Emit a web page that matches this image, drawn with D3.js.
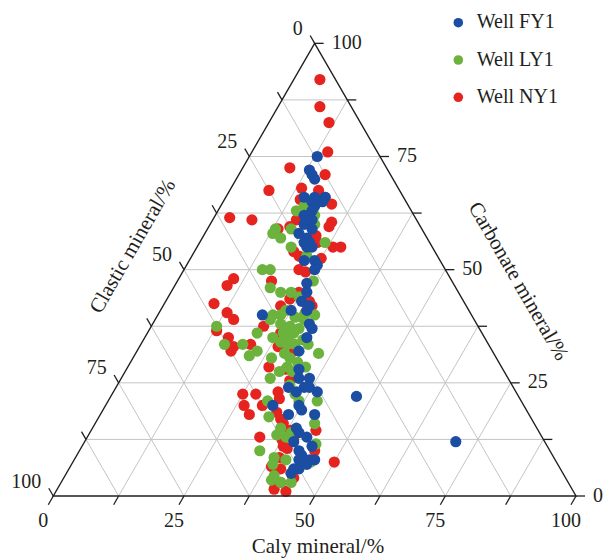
<!DOCTYPE html>
<html>
<head>
<meta charset="utf-8">
<script src="https://cdn.jsdelivr.net/npm/d3@7"></script>
<style>
  body { margin: 0; background: #fff; }
  svg text { font-family: "Liberation Serif", "Times New Roman", serif; fill: #231f20; }
</style>
</head>
<body>
<svg id="chart"></svg>
<script>
const W = 604, H = 558;

const wells = ["Well FY1", "Well LY1", "Well NY1"];
const wellColors = ["#1b4ea2", "#6cb33e", "#e5241f"];

// each sample: [clay, clastic, carbonate] in %
const wellFY1 = [
  [13,12,75],[13,15,72],[14,15,71],[15,15,70],[15,19,66],[17,18,65],[17,17,66],[19,15,66],[18,18,64],[19,16,65],
  [18,19,63],[17,21,62],[18,20,62],[19,20,61],[18,22,60],[20,21,59],[18,24,58],[20,23,57],[20,24,56],[21,23,56],
  [22,23,55],[21,24,55],[22,26,52],[24,24,52],[25,24,51],[25,25,50],[25,28,47],[26,29,45],[26,31,43],[28,30,42],
  [28,31,41],[25,34,41],[20,40,40],[31,32,37],[30,32,38],[31,34,35],[31,37,32],[33,39,28],[36,38,26],[34,40,26],
  [37,39,24],[36,40,24],[35,42,23],[33,43,24],[39,38,23],[47,31,22],[37,43,20],[38,43,19],[36,46,18],[32,48,20],
  [41,41,18],[39,46,15],[40,46,14],[42,45,13],[40,48,12],[44,45,11],[42,48,10],[43,48,9],[45,47,8],[43,49,8],
  [43,51,6],[44,50,6],[45,48,7],[43,52,5],[71,17,12],[46,46,8]
];

const wellLY1 = [
  [16,20,64],[15,22,63],[19,19,62],[13,28,59],[13,29,58],[16,25,59],[15,28,57],[18,27,55],[24,20,56],[20,20,60],
  [22,25,53],[15,35,50],[16.5,33.5,50],[18.5,35.5,46],[26,26.5,47.5],[21,34,45],[23,32,45],[25,31,44],[24,35,41],[22,38,40],
  [23.5,36.5,40],[28,32,40],[30,30,40],[22,39,39],[24.5,37.5,38],[26.5,36,37.5],[26,38,36],[28,36,36],[28.5,34.5,37],[24.5,40.5,35],
  [26.5,39.5,34],[28,38.5,33.5],[29.5,37,33.5],[30.5,35,34.5],[12.5,50,37.5],[21,43,36],[16,50.5,33.5],[23,45,32],[22,47,31],[19.5,47,33.5],
  [26.5,43,30.5],[28.5,40,31.5],[30,39.5,30.5],[32,38.5,29.5],[30.5,41,28.5],[32,40.5,27.5],[35,33.5,31.5],[29.5,43,27.5],[28.5,45.5,26],[33,42.5,24.5],
  [35,42.5,22.5],[36.5,42.5,21],[30.5,48.5,21],[32.5,50,17.5],[40,39,21],[36,49,15],[38.5,47.5,14],[38,49,13],[36,50.5,13.5],[42,42,16],
  [44.5,44,11.5],[34.5,55.5,10],[38,53.5,8.5],[38.5,54.5,7],[45.5,47,7.5],[40.5,51.5,8],[40,55.5,4.5],[40,56.5,3.5],[42,55,3],[44,53,3],
  [34,37.5,28.5],[28.5,32.5,39],[26.5,34,39.5],[27.5,37.5,35],[32,34.5,33.5]
];

const wellNY1 = [
  [5,3,92],[8,6,86],[11.5,6,82.5],[14.5,9.5,76],[9,18.5,72.5],[16.5,12.5,71],[7.5,25,67.5],[3,35.5,61.5],[7.5,31.5,61],[27.5,17.5,55],
  [26,19,55],[23,16.5,60.5],[23,17.5,59.5],[21,14.5,64.5],[13.5,18.5,68],[17,15.5,67.5],[14.5,20,65.5],[16,23,61],[15.5,25,59.5],[13.5,27.5,59],
  [21.5,21,57.5],[22.5,21.5,56],[20.5,26.5,53],[25,22.5,52.5],[22,28,50],[23.5,27,49.5],[19,27,54],[10.5,41.5,48],[10,43.5,46.5],[18,34.5,47.5],
  [9.5,48,42.5],[13,46.5,40.5],[15,46,39],[24.5,30.5,45],[23.5,33,43.5],[22.5,35.5,42],[27.5,29.5,43],[28.5,29.5,42],[26.5,30.5,43],[28,31.5,40.5],
  [13,50.5,36.5],[16,49,35],[18,50,32],[18,49,33],[21,45.5,33.5],[21.5,41,37.5],[26.5,40.5,33],[25.5,38.5,36],[30,38,32],[27,44.5,28.5],
  [30.5,41.5,28],[32.5,42,25.5],[25,52.5,22.5],[27.5,50,22.5],[26.5,53.5,20],[28.5,53.5,18],[30,50,20],[33,54,13],[31.5,45.5,23],[32.5,46,21.5],
  [33.5,48,18.5],[35,48,17],[36,48,16],[37.5,50,12.5],[38.5,50.5,11],[39.5,50,10.5],[38,47.5,14.5],[39.5,47.5,13],[39,52.5,8.5],[38.5,55,6.5],
  [40.5,53.5,6],[43,52,5],[44,52,4],[42,55,3],[41.5,57,1.5],[44,55,1],[43,42.5,14.5],[45,45,10],[50,42.5,7.5],[19,15,66]
];

const tickValues = [0, 12.5, 25, 37.5, 50, 62.5, 75, 87.5, 100];
const labelValues = [0, 25, 50, 75, 100];

const clayTitle = "Caly mineral/%";
const clasticTitle = "Clastic mineral/%";
const carbonateTitle = "Carbonate mineral/%";

const svg = d3.select("#chart").attr("width", W).attr("height", H);

// triangle frame
const leftX = 53.3, rightX = 576, baseY = 496;
const apexY = baseY - (rightX - leftX) * Math.sqrt(3) / 2;

const x = d3.scaleLinear().domain([0, 100]).range([leftX, rightX]);
const y = d3.scaleLinear().domain([0, 100]).range([baseY, apexY]);

function proj(clay, carb) {
    return [x(clay + carb / 2), y(carb)];
}

// grid
let segs = [];
d3.range(1, 8).map(i => i * 12.5).forEach(function (v) {
    segs.push([proj(0, v), proj(100 - v, v)]);          // carbonate = v
    segs.push([proj(v, 0), proj(v, 100 - v)]);          // clay = v
    segs.push([proj(100 - v, 0), proj(0, 100 - v)]);    // clastic = v
});

svg.append("g").selectAll("line").data(segs).enter().append("line")
    .attr("x1", d => d[0][0]).attr("y1", d => d[0][1])
    .attr("x2", d => d[1][0]).attr("y2", d => d[1][1])
    .attr("stroke", "#c4c4c4").attr("stroke-width", 1);

// points (NY1 below, FY1 on top)
let layers = [
    { data: wellNY1, color: wellColors[2] },
    { data: wellLY1, color: wellColors[1] },
    { data: wellFY1, color: wellColors[0] }
];

layers.forEach(function (l) {
    svg.append("g").selectAll("circle").data(l.data).enter().append("circle")
        .attr("cx", d => proj(d[0], d[2])[0])
        .attr("cy", d => proj(d[0], d[2])[1])
        .attr("r", 5.6)
        .style("fill", l.color);
});

// outline
let corners = [proj(0, 0), proj(100, 0), proj(0, 100)];
svg.append("path")
    .attr("d", "M" + corners.join("L") + "Z")
    .attr("fill", "none").attr("stroke", "#231f20").attr("stroke-width", 1.4);

let axisG = svg.append("g").attr("stroke", "#231f20").attr("stroke-width", 1.3);

// bottom (clay) ticks, down-left
tickValues.forEach(function (t) {
    let p = proj(t, 0);
    axisG.append("line").attr("x1", p[0]).attr("y1", p[1])
        .attr("x2", p[0] - 5).attr("y2", p[1] + 8.7);
});
// left (clastic) ticks, up-left
tickValues.forEach(function (t) {
    let p = proj(0, 100 - t);
    axisG.append("line").attr("x1", p[0]).attr("y1", p[1])
        .attr("x2", p[0] - 4.5).attr("y2", p[1] - 7.8);
});
// right (carbonate) ticks, to the right
tickValues.forEach(function (t) {
    let p = proj(100 - t, t);
    axisG.append("line").attr("x1", p[0]).attr("y1", p[1])
        .attr("x2", p[0] + 9).attr("y2", p[1]);
});

let labels = svg.append("g").style("font-size", "20px");

labelValues.forEach(function (t) {
    let p = proj(t, 0);
    labels.append("text").attr("x", p[0] - 10).attr("y", p[1] + 26)
        .attr("text-anchor", "middle").attr("dominant-baseline", "middle").text(t);

    let q = proj(0, 100 - t);
    labels.append("text").attr("x", q[0] - 12).attr("y", q[1] - 13)
        .attr("text-anchor", "end").attr("dominant-baseline", "middle").text(t);

    let r = proj(100 - t, t);
    labels.append("text").attr("x", r[0] + 17).attr("y", r[1] + 1)
        .attr("text-anchor", "start").attr("dominant-baseline", "middle").text(t);
});

// axis titles
svg.append("text").attr("x", 318).attr("y", 548)
    .attr("text-anchor", "middle").attr("dominant-baseline", "middle")
    .style("font-size", "21px").text(clayTitle);

svg.append("text")
    .attr("transform", "translate(134,247) rotate(-60)")
    .attr("text-anchor", "middle").attr("dominant-baseline", "middle")
    .style("font-size", "21px").text(clasticTitle);

svg.append("text")
    .attr("transform", "translate(517,282) rotate(60)")
    .attr("text-anchor", "middle").attr("dominant-baseline", "middle")
    .style("font-size", "21px").text(carbonateTitle);

// legend
let legend = svg.append("g").selectAll("g").data(wells).enter().append("g")
    .attr("transform", (d, i) => "translate(458.3," + (22.7 + i * 37.3) + ")");

legend.append("circle").attr("r", 4.8).style("fill", (d, i) => wellColors[i]);
legend.append("text").attr("x", 18.5).attr("y", 1)
    .attr("dominant-baseline", "middle").style("font-size", "20px")
    .text(d => d);
</script>
</body>
</html>
